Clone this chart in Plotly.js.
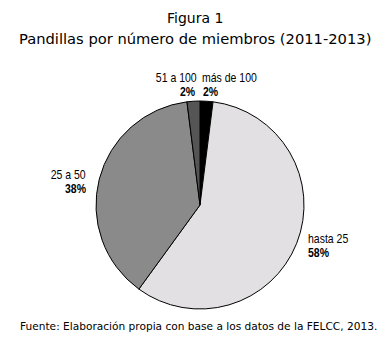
<!DOCTYPE html>
<html><head><meta charset="utf-8">
<script src="https://cdn.plot.ly/plotly-3.0.1.min.js"></script>
<style>html,body{margin:0;padding:0;background:#fff}#chart{width:389px;height:344px}</style>
</head><body><div id="chart"></div>
<script>
var categories = ["más de 100", "hasta 25", "25 a 50", "51 a 100"];
var values = [2, 58, 38, 2];
var colors = ["#000000", "#e2e0e2", "#8a8a8a", "#555555"];
var titleLines = ["Figura 1", "Pandillas por número de miembros (2011-2013)"];
var sourceNote = "Fuente: Elaboración propia con base a los datos de la FELCC, 2013.";

// label placement (layout only): x, y of name line and percent line in px, anchor
var labelPos = [
  {x: 201, y1: 78.5, x2: 202, y2: 92.5, xa: "left"},
  {x: 306.5, y1: 239, x2: 306.5, y2: 253, xa: "left"},
  {x: 87, y1: 174.5, x2: 86.5, y2: 188.5, xa: "right"},
  {x: 198, y1: 78.5, x2: 196, y2: 92.5, xa: "right"}
];
var W = 389, H = 344;
var labelFont = "'Liberation Sans Narrow', 'Arial Narrow', 'Liberation Sans', Arial, sans-serif";
var SQUEEZE = 0.84;

var annotations = [];
categories.forEach(function (c, i) {
  var p = labelPos[i];
  annotations.push({
    xref: "paper", yref: "paper", x: p.x / W, y: 1 - p.y1 / H,
    xanchor: p.xa, yanchor: "middle", showarrow: false, text: c, borderpad: 0,
    font: {family: labelFont, size: 12.5, color: "#000"}
  });
  annotations.push({
    xref: "paper", yref: "paper", x: p.x2 / W, y: 1 - p.y2 / H,
    xanchor: p.xa, yanchor: "middle", showarrow: false, text: "<b>" + values[i] + "%</b>", borderpad: 0,
    font: {family: labelFont, size: 12.5, color: "#000"}
  });
});
var nLabels = annotations.length;
annotations.push({
  xref: "paper", yref: "paper", x: 0.5, y: 1 - 18 / H, xanchor: "center", yanchor: "middle",
  showarrow: false, text: titleLines[0], font: {family: "DejaVu Sans, Verdana, sans-serif", size: 14, color: "#000"}
});
annotations.push({
  xref: "paper", yref: "paper", x: 0.5, y: 1 - 39 / H, xanchor: "center", yanchor: "middle",
  showarrow: false, text: titleLines[1], font: {family: "DejaVu Sans, Verdana, sans-serif", size: 14.7, color: "#000"}
});
annotations.push({
  xref: "paper", yref: "paper", x: 199 / W, y: 1 - 326 / H, xanchor: "center", yanchor: "middle",
  showarrow: false, text: sourceNote, font: {family: "DejaVu Sans, Verdana, sans-serif", size: 10.6, color: "#000"}
});

var trace = {
  type: "pie",
  labels: categories,
  values: values,
  sort: false,
  direction: "clockwise",
  rotation: 0,
  textinfo: "none",
  hoverinfo: "label+percent",
  marker: {colors: colors, line: {color: "#000", width: 1}},
  domain: {x: [96 / W, 304 / W], y: [1 - 309 / H, 1 - 101 / H]}
};

Plotly.newPlot("chart", [trace], {
  width: W, height: H,
  margin: {l: 0, r: 0, t: 0, b: 0},
  paper_bgcolor: "#fff", plot_bgcolor: "#fff",
  showlegend: false,
  annotations: annotations
}, {displayModeBar: false, staticPlot: true}).then(function (gd) {
  // emulate a narrow typeface for the slice labels by squeezing them horizontally
  var groups = gd.querySelectorAll("g.annotation");
  groups.forEach(function (g) {
    var idx = +g.getAttribute("data-index");
    if (!(idx < nLabels)) return;
    var txt = g.querySelector("text.annotation-text");
    if (!txt) return;
    var bb = txt.getBBox();
    var ax = annotations[idx].xanchor === "right" ? bb.x + bb.width : bb.x;
    var prev = txt.getAttribute("transform") || "";
    txt.setAttribute("transform", prev + " translate(" + ax + ",0) scale(" + SQUEEZE + ",1) translate(" + (-ax) + ",0)");
  });
});
</script></body></html>
